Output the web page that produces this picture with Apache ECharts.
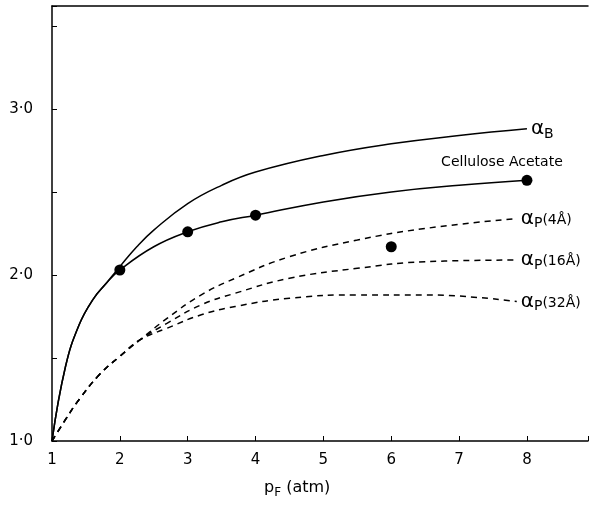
<!DOCTYPE html>
<html>
<head>
<meta charset="utf-8">
<script src="https://cdn.jsdelivr.net/npm/echarts@6/dist/echarts.min.js"></script>
<style>
  html, body { margin: 0; padding: 0; background: #fff; }
  #chart { width: 591px; height: 506px; }
</style>
</head>
<body>
<div id="chart"></div>
<script>
// feed pressure (atm) and separation factors
const xB = [1, 1.2, 1.4, 1.6, 1.8, 2, 2.25, 2.5, 3, 3.5, 4, 5, 6, 7, 8]
const alphaB = [1.0, 1.45, 1.70, 1.85, 1.95, 2.05, 2.17, 2.27, 2.43, 2.54, 2.62, 2.72, 2.79, 2.84, 2.88]

const xCA = [1, 1.2, 1.4, 1.6, 1.8, 2, 2.5, 3, 3.5, 4, 5, 6, 7, 8]
const caCurve = [1.0, 1.45, 1.70, 1.85, 1.95, 2.03, 2.17, 2.26, 2.32, 2.36, 2.44, 2.50, 2.54, 2.57]

const xExp = [2, 3, 4, 6, 8]
const caExp = [2.03, 2.26, 2.36, 2.17, 2.57]

const xP = [1, 1.2, 1.4, 1.7, 2, 2.3, 2.7, 3.2, 3.7, 4.5, 5.5, 6.5, 7.85]
const alphaP4 = [1.0, 1.13, 1.25, 1.40, 1.51, 1.61, 1.74, 1.88, 1.98, 2.11, 2.21, 2.28, 2.34]
const alphaP16 = [1.0, 1.13, 1.25, 1.40, 1.51, 1.61, 1.71, 1.82, 1.89, 1.98, 2.04, 2.08, 2.09]
const alphaP32 = [1.0, 1.13, 1.25, 1.40, 1.51, 1.61, 1.68, 1.76, 1.81, 1.86, 1.88, 1.88, 1.84]

const xTicks = [1, 2, 3, 4, 5, 6, 7, 8]
const yLabels = { 1: '1·0', 2: '2·0', 3: '3·0' }

const font = 'DejaVu Sans'
const pairs = (xs, ys) => xs.map((x, i) => [x, ys[i]])

const alphaRich = {
  a: { fontFamily: font, fontSize: 20, color: '#000' },
  s: { fontFamily: font, fontSize: 14, color: '#000', padding: [10, 0, 0, 0] },
  t: { fontFamily: font, fontSize: 14, color: '#000', padding: [3, 0, 0, 0] },
}

const lineSeries = (name, data, dashed, label) => ({
  name,
  type: 'line',
  data,
  smooth: 0.45,
  showSymbol: false,
  silent: true,
  lineStyle: { color: '#000', width: 1.5, type: dashed ? [6, 5] : 'solid' },
  endLabel: label ? {
    show: true,
    formatter: label,
    distance: 4,
    rich: alphaRich,
  } : { show: false },
})

const chart = echarts.init(document.getElementById('chart'))
chart.setOption({
  animation: false,
  backgroundColor: '#fff',
  grid: { left: 52, right: 0, top: 6, bottom: 65 },
  xAxis: [
    {
      type: 'value',
      min: 1,
      max: 8.9,
      interval: 1,
      axisLine: { lineStyle: { color: '#000', width: 1.5 } },
      axisTick: { inside: true, length: 5, lineStyle: { color: '#000' } },
      splitLine: { show: false },
      axisLabel: {
        color: '#000',
        fontFamily: font,
        fontSize: 15,
        margin: 12,
        formatter: (v) => (xTicks.includes(v) ? String(v) : ''),
      },
    },
    {
      type: 'value',
      position: 'top',
      min: 1,
      max: 8.9,
      axisLine: { show: true, lineStyle: { color: '#000', width: 1.5 } },
      axisTick: { show: false },
      axisLabel: { show: false },
      splitLine: { show: false },
    },
  ],
  yAxis: {
    type: 'value',
    min: 1,
    max: 3.62,
    interval: 0.5,
    axisLine: { show: true, lineStyle: { color: '#000', width: 1.5 } },
    axisTick: { show: true, inside: true, length: 5, lineStyle: { color: '#000' } },
    splitLine: { show: false },
    axisLabel: {
      color: '#000',
      fontFamily: font,
      fontSize: 15,
      margin: 19,
      formatter: (v) => yLabels[v] || '',
    },
  },
  graphic: [
    {
      type: 'text',
      left: 264,
      top: 480,
      style: {
        text: '{p|p}{s|F}{p| (atm)}',
        rich: {
          p: { fontFamily: font, fontSize: 16, fill: '#000' },
          s: { fontFamily: font, fontSize: 12, fill: '#000', padding: [10, 0, 0, 0] },
        },
      },
    },
  ],
  series: [
    lineSeries('alphaB', pairs(xB, alphaB), false, '{a|α}{s|B}'),
    lineSeries('CA', pairs(xCA, caCurve), false, null),
    lineSeries('alphaP4', pairs(xP, alphaP4), true, '{a|α}{s|P}{t|(4Å)}'),
    lineSeries('alphaP16', pairs(xP, alphaP16), true, '{a|α}{s|P}{t|(16Å)}'),
    lineSeries('alphaP32', pairs(xP, alphaP32), true, '{a|α}{s|P}{t|(32Å)}'),
    {
      name: 'Cellulose Acetate',
      type: 'scatter',
      data: pairs(xExp, caExp),
      symbolSize: 11,
      itemStyle: { color: '#000', opacity: 1 },
      silent: true,
      label: {
        show: true,
        position: 'top',
        offset: [-25, 0],
        fontFamily: font,
        fontSize: 14,
        color: '#000',
        formatter: (p) => (p.dataIndex === xExp.length - 1 ? 'Cellulose Acetate' : ''),
      },
    },
  ],
})
</script>
</body>
</html>
